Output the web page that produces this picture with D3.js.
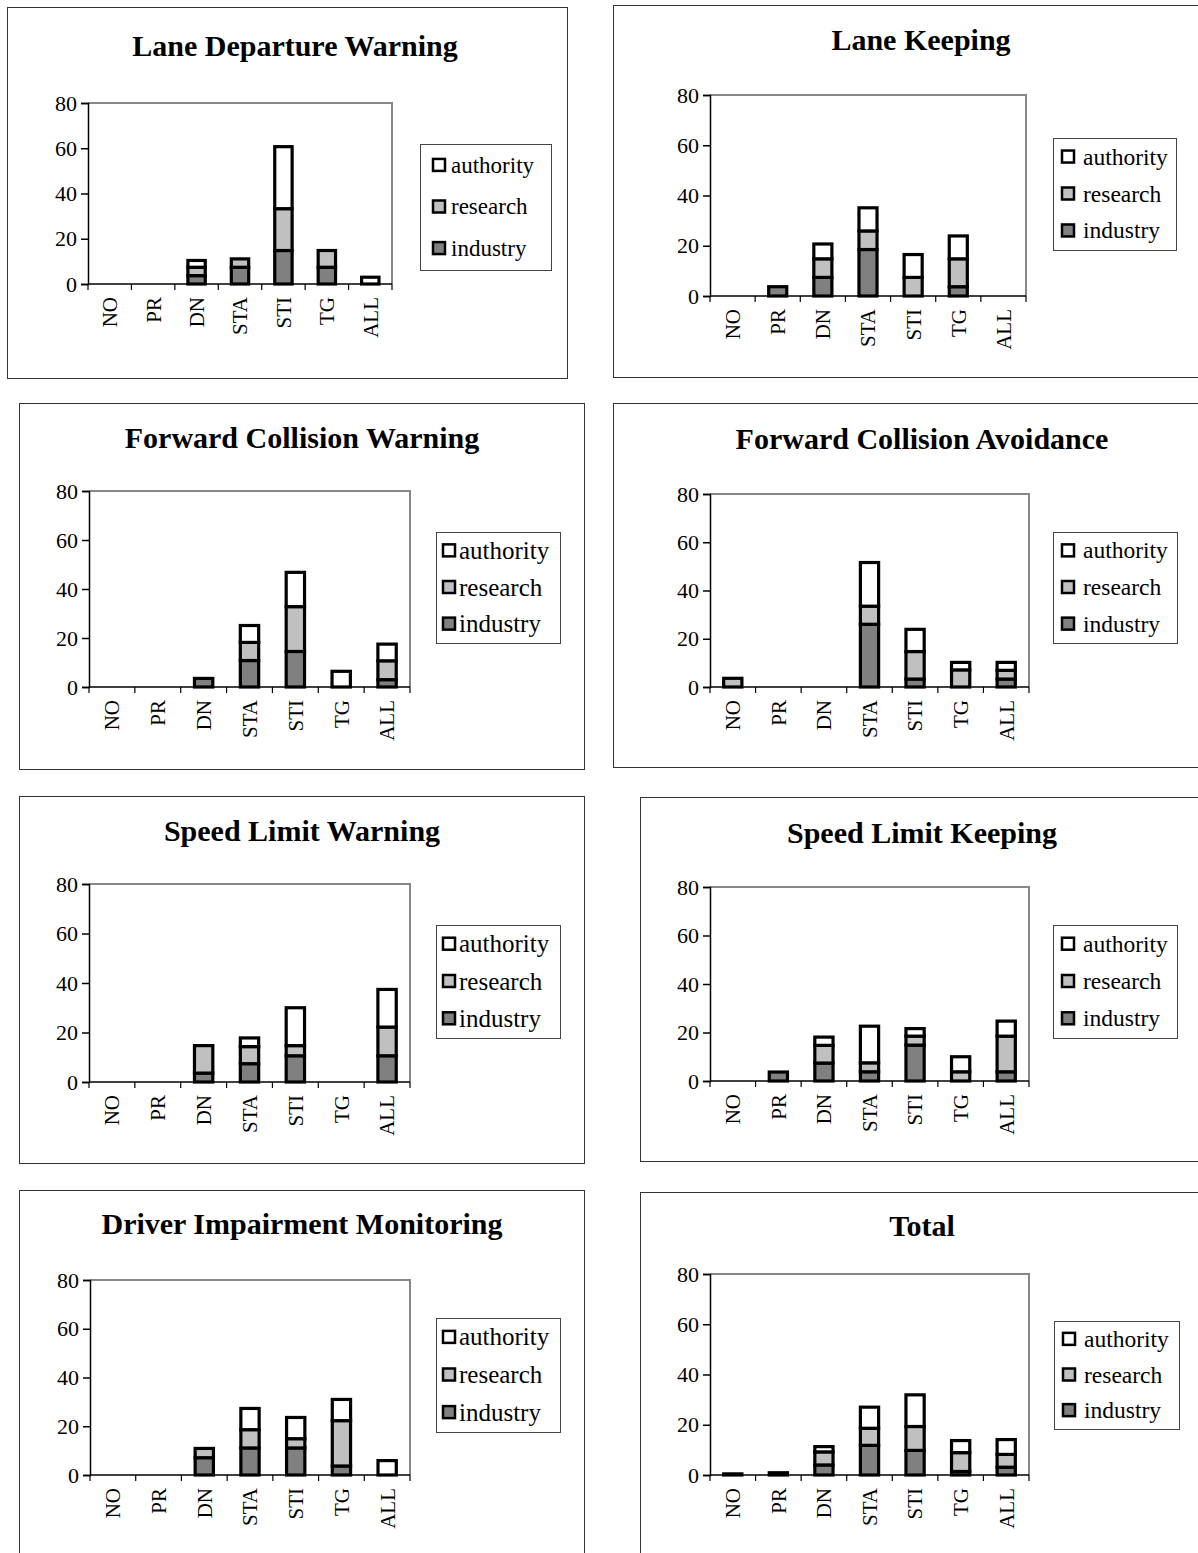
<!DOCTYPE html>
<html>
<head>
<meta charset="utf-8">
<script src="https://cdn.jsdelivr.net/npm/d3@7"></script>
<style>
  html, body { margin: 0; padding: 0; background: #fff; }
  svg { display: block; }
  text { font-family: "Liberation Serif", "Times New Roman", serif; fill: #000; }
</style>
</head>
<body>
<svg id="chart" width="1198" height="1553"></svg>
<script>
// Categories on the x axis (shared by all panels)
const categories = ["NO", "PR", "DN", "STA", "STI", "TG", "ALL"];
const seriesKeys = ["industry", "research", "authority"];
const legendOrder = ["authority", "research", "industry"];
const yTicks = [0, 20, 40, 60, 80];

const panelTitles = [
  "Lane Departure Warning",
  "Lane Keeping",
  "Forward Collision Warning",
  "Forward Collision Avoidance",
  "Speed Limit Warning",
  "Speed Limit Keeping",
  "Driver Impairment Monitoring",
  "Total"
];

// Segment values per panel, in category order NO, PR, DN, STA, STI, TG, ALL
const industry = [
  [0, 0, 3.7, 7.4, 14.8, 7.4, 0],
  [0, 3.7, 7.4, 18.5, 0, 3.7, 0],
  [0, 0, 3.5, 10.8, 14.5, 0, 3.0],
  [0, 0, 0, 26.0, 3.3, 0, 3.3],
  [0, 0, 3.6, 7.4, 10.6, 0, 10.6],
  [0, 3.7, 7.4, 3.8, 14.8, 0, 3.8],
  [0, 0, 7.1, 11.1, 11.1, 3.7, 0],
  [0, 0.9, 4.0, 11.8, 9.8, 1.4, 3.1]
];
const research = [
  [0, 0, 3.7, 3.7, 18.5, 7.4, 0],
  [0, 0, 7.4, 7.4, 7.4, 11.1, 0],
  [0, 0, 0, 7.4, 18.3, 0, 7.7],
  [3.6, 0, 0, 7.5, 11.4, 7.1, 3.6],
  [0, 0, 11.1, 6.9, 4.1, 0, 11.6],
  [0, 0, 7.3, 3.7, 3.7, 3.8, 14.7],
  [0, 0, 3.8, 7.5, 3.8, 18.6, 0],
  [0.45, 0, 5.2, 6.8, 9.5, 7.5, 5.1]
];
const authority = [
  [0, 0, 3.0, 0, 27.4, 0, 3.0],
  [0, 0, 5.9, 9.2, 9.1, 9.1, 0],
  [0, 0, 0, 6.9, 14.0, 6.4, 6.8],
  [0, 0, 0, 18.1, 9.2, 3.1, 3.3],
  [0, 0, 0, 3.5, 15.3, 0, 15.2],
  [0, 0, 3.4, 15.1, 3.1, 6.2, 6.2],
  [0, 0, 0, 8.7, 8.7, 8.7, 5.9],
  [0, 0, 2.1, 8.4, 12.6, 4.8, 5.9]
];

// Page layout of each panel: frame, plot area, legend box, title centre,
// and legend swatch / text offsets with legend font size
const layout = [
  { box: [7, 7, 560, 371],   plot: [88, 103, 392, 284],   legend: [420, 144, 131, 126],  title: [295, 45],  lg: [13, 31, 23] },
  { box: [613, 5, 620, 372], plot: [710, 95, 1026, 296],  legend: [1053, 138, 123, 112], title: [921, 39],  lg: [9, 30, 23.5] },
  { box: [19, 403, 565, 366], plot: [89, 491, 410, 687],  legend: [436, 532, 124, 111],  title: [302, 437], lg: [7, 23, 25] },
  { box: [613, 403, 620, 364], plot: [710, 494, 1029, 687], legend: [1053, 532, 124, 111], title: [922, 438], lg: [9, 30, 23.5] },
  { box: [19, 796, 565, 367], plot: [89, 884, 410, 1082], legend: [436, 925, 124, 113],  title: [302, 830], lg: [7, 23, 25] },
  { box: [640, 797, 620, 364], plot: [710, 887, 1029, 1081], legend: [1053, 925, 124, 113], title: [922, 832], lg: [9, 30, 23.5] },
  { box: [19, 1190, 565, 400], plot: [90, 1280, 410, 1475], legend: [436, 1318, 124, 114], title: [302, 1223], lg: [7, 23, 25] },
  { box: [640, 1192, 620, 400], plot: [710, 1274, 1029, 1475], legend: [1054, 1321, 125, 108], title: [922, 1225], lg: [9, 30, 23.5] }
];

const fills = { industry: "#808080", research: "#c0c0c0", authority: "#ffffff" };

const svg = d3.select("#chart");

panelTitles.forEach((title, i) => {
  const L = layout[i];
  const g = svg.append("g").attr("class", "panel");

  // panel frame
  g.append("rect")
    .attr("x", L.box[0] + 0.5).attr("y", L.box[1] + 0.5)
    .attr("width", L.box[2]).attr("height", L.box[3])
    .attr("fill", "#fff").attr("stroke", "#333").attr("stroke-width", 1);

  // title
  g.append("text")
    .attr("x", L.title[0]).attr("y", L.title[1])
    .attr("dy", "0.35em")
    .attr("text-anchor", "middle")
    .style("font-size", "30px").style("font-weight", "bold")
    .text(title);

  const [l, t, r, b] = L.plot;
  const x = d3.scaleBand().domain(categories).range([l, r]);
  const y = d3.scaleLinear().domain([0, 80]).range([b, t]);

  // plot frame: grey top and right edges
  g.append("path")
    .attr("d", `M${l},${t}H${r}V${b}`)
    .attr("fill", "none").attr("stroke", "#888").attr("stroke-width", 2);

  // stacked bars
  const rows = categories.map((c, j) => ({
    cat: c,
    industry: industry[i][j],
    research: research[i][j],
    authority: authority[i][j]
  }));
  const stacked = d3.stack().keys(seriesKeys)(rows);
  const bw = x.bandwidth() * 0.4;

  stacked.forEach(layer => {
    g.append("g").selectAll("rect")
      .data(layer.filter(d => d[1] - d[0] > 0))
      .join("rect")
      .attr("x", d => x(d.data.cat) + (x.bandwidth() - bw) / 2)
      .attr("y", d => y(d[1]))
      .attr("width", bw)
      .attr("height", d => y(d[0]) - y(d[1]))
      .attr("fill", fills[layer.key])
      .attr("stroke", "#000")
      .attr("stroke-width", 3.2);
  });

  // y axis
  const yAxis = g.append("g")
    .attr("transform", `translate(${l},0)`)
    .call(d3.axisLeft(y).tickValues(yTicks).tickSize(7).tickPadding(4).tickFormat(d3.format("d")));
  yAxis.select(".domain").attr("stroke", "#000").attr("stroke-width", 1.5);
  yAxis.selectAll(".tick line").attr("stroke", "#000").attr("stroke-width", 1.5);
  yAxis.selectAll(".tick text")
    .style("font-size", "22px")
    .style("font-family", "'Liberation Serif', 'Times New Roman', serif")
    .attr("fill", "#000");

  // x axis: tick marks at category boundaries, labels rotated
  const xAxis = g.append("g").attr("transform", `translate(0,${b})`);
  xAxis.append("line")
    .attr("x1", l).attr("x2", r).attr("y1", 0).attr("y2", 0)
    .attr("stroke", "#000").attr("stroke-width", 1.5);
  const bounds = categories.map(c => x(c)).concat([x(categories[categories.length - 1]) + x.bandwidth()]);
  xAxis.selectAll("line.bound")
    .data(bounds)
    .join("line")
    .attr("class", "bound")
    .attr("x1", d => d).attr("x2", d => d)
    .attr("y1", 0).attr("y2", 6)
    .attr("stroke", "#000").attr("stroke-width", 1.2);
  xAxis.selectAll("text")
    .data(categories)
    .join("text")
    .attr("transform", d => `translate(${x(d) + x.bandwidth() / 2},13) rotate(-90)`)
    .attr("dy", "0.35em")
    .attr("text-anchor", "end")
    .style("font-size", "21px")
    .text(d => d);

  // legend
  const [lx, ly, lw, lh] = L.legend;
  const [sDx, tDx, fs] = L.lg;
  const lg = g.append("g");
  lg.append("rect")
    .attr("x", lx + 0.5).attr("y", ly + 0.5)
    .attr("width", lw).attr("height", lh)
    .attr("fill", "#fff").attr("stroke", "#444").attr("stroke-width", 1);
  const m = lh * 0.17;
  const step = (lh - 2 * m) / 2;
  legendOrder.forEach((key, k) => {
    const cy = ly + m + k * step;
    lg.append("rect")
      .attr("x", lx + sDx).attr("y", cy - 6.5)
      .attr("width", 12).attr("height", 12)
      .attr("fill", fills[key]).attr("stroke", "#000").attr("stroke-width", 2.5);
    lg.append("text")
      .attr("x", lx + tDx).attr("y", cy)
      .attr("dy", "0.32em")
      .style("font-size", fs + "px")
      .text(key);
  });
});
</script>
</body>
</html>
